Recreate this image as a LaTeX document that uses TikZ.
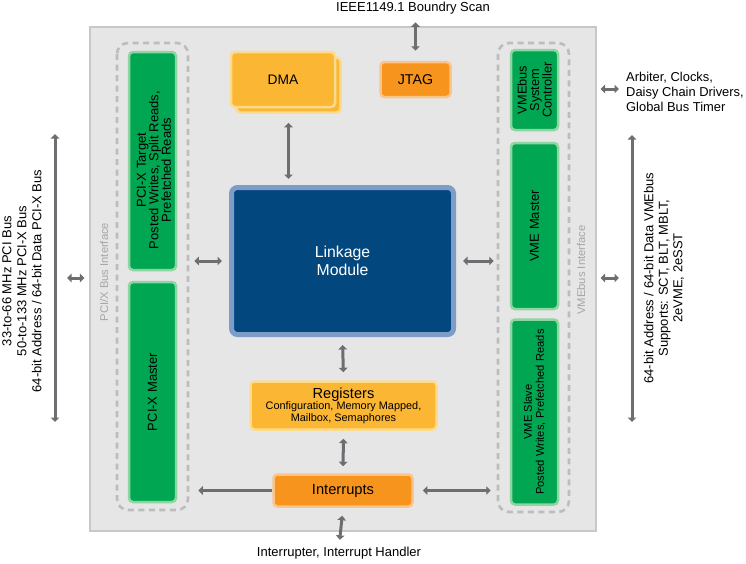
\documentclass[tikz,border=0pt]{standalone}
\usepackage{fontspec}
\setmainfont{Liberation Sans}
\usetikzlibrary{arrows.meta,calc}
\definecolor{bgc}{HTML}{E6E6E6}
\definecolor{bgb}{HTML}{C8C8C8}
\definecolor{dashc}{HTML}{BDBDBD}
\definecolor{grn}{HTML}{00A651}
\definecolor{grnb}{HTML}{8ED5A4}
\definecolor{ylw}{HTML}{FBB633}
\definecolor{ylwb}{HTML}{FDDB8C}
\definecolor{org}{HTML}{F7941E}
\definecolor{orgb}{HTML}{FBC48A}
\definecolor{blu}{HTML}{03477F}
\definecolor{blub}{HTML}{7E9CC8}
\definecolor{arr}{HTML}{6D6E71}
\definecolor{gtxt}{HTML}{A6A6A6}
\newcommand{\fs}[2]{\fontsize{#1}{#2}\selectfont}
\tikzset{
  greenbox/.style={draw=grnb, fill=grn, line width=2.5pt, rounded corners=4pt, inner sep=0pt, rotate=90, align=center, text=black},
  ylwbox/.style={draw=ylwb, fill=ylw, line width=2.5pt, rounded corners=4pt, inner sep=0pt, align=center},
  orgbox/.style={draw=orgb, fill=org, line width=2.5pt, rounded corners=4pt, inner sep=0pt, align=center},
  dbl/.style={arr, line width=3pt, {Triangle[length=4.5pt,width=8.5pt]}-{Triangle[length=4.5pt,width=8.5pt]}},
  sgl/.style={arr, line width=3pt, -{Triangle[length=4.5pt,width=8.5pt]}},
  dashbox/.style={draw=dashc, dash pattern=on 6pt off 4.5pt, line width=2.6pt, rounded corners=11pt},
  plain/.style={inner sep=0pt, align=center}
}
\begin{document}
\begin{tikzpicture}[x=1pt,y=-1pt]
\useasboundingbox (0,0) rectangle (746,563);
% background
\node[draw=bgb, fill=bgc, line width=1.2pt, minimum width=506pt, minimum height=504pt, inner sep=0pt] (bg) at (343,279) {};
% dashed groups
\draw[dashbox] (117,43) rectangle (188,510);
\draw[dashbox] (498,43) rectangle (569,512);
% interface labels
\node[plain, rotate=90, text=gtxt, font=\fs{11.2}{13}] (pciif) at (104,272) {PCI/X Bus Interface};
\node[plain, rotate=90, text=gtxt, font=\fs{11.2}{13}] (vmeif) at (581,270) {VMEbus Interface};
% green boxes (rotated: minimum width = vertical extent)
\node[greenbox, minimum width=218pt, minimum height=47pt] (pcitarget) at (152.5,161) {};
\node[plain, rotate=90, font=\fs{13}{12.5}] (pcitargettxt) at (154,170) {PCI-X Target\\Posted Writes, Split Reads,\\Prefetched Reads};
\node[greenbox, minimum width=220pt, minimum height=47pt, font=\fs{13}{14}] (pcimaster) at (152.5,392) {PCI-X Master};
\node[greenbox, minimum width=80pt, minimum height=47pt, font=\fs{12.8}{12.5}] (vmesys) at (534.5,90) {VMEbus\\System\\Controller};
\node[greenbox, minimum width=166pt, minimum height=47pt, font=\fs{13}{14}] (vmemaster) at (534.5,226) {VME Master};
\node[greenbox, minimum width=185pt, minimum height=47pt, font=\fs{11.2}{12}] (vmeslave) at (534.5,412) {VME Slave\\Posted Writes, Prefetched Reads};
% DMA
\node[ylwbox, minimum width=104pt, minimum height=55pt] (dmaback) at (288.5,85) {};
\node[ylwbox, minimum width=104pt, minimum height=55pt, font=\fs{13.8}{15}] (dma) at (283,79.5) {DMA};
% JTAG
\node[orgbox, minimum width=70pt, minimum height=35pt, font=\fs{14.2}{15}] (jtag) at (415.5,79.5) {JTAG};
% Linkage
\node[draw=blub, fill=blu, line width=5pt, rounded corners=6pt, minimum width=222pt, minimum height=147pt, inner sep=0pt, align=center, text=white, font=\fs{15.8}{17.5}] (linkage) at (342.5,261) {Linkage\\Module};
% Registers
\node[ylwbox, minimum width=186pt, minimum height=48pt] (registers) at (343.5,405.5) {{\fs{14.6}{15}Registers}\\[-1pt]{\fs{10.9}{12}Configuration, Memory Mapped,}\\{\fs{10.9}{12}Mailbox, Semaphores}};
% Interrupts
\node[orgbox, minimum width=139pt, minimum height=32pt, font=\fs{14.7}{15}] (interrupts) at (343,490.5) {Interrupts};
% outer texts
\node[plain, font=\fs{13}{14}] (ieee) at (413,8) {IEEE1149.1 Boundry Scan};
\node[plain, font=\fs{13}{14}] (irqh) at (339,553) {Interrupter, Interrupt Handler};
\node[plain, anchor=west, align=left, font=\fs{12.9}{15}] (arbiter) at (626,92) {Arbiter, Clocks,\\Daisy Chain Drivers,\\Global Bus Timer};
\node[plain, rotate=90, font=\fs{13}{15}] (pcibus) at (22,281) {33-to-66 MHz PCI Bus\\50-to-133 MHz PCI-X Bus\\64-bit Address / 64-bit Data PCI-X Bus};
\node[plain, rotate=90, font=\fs{13}{14.5}] (vmebus) at (664,278) {64-bit Address / 64-bit Data VMEbus\\Supports: SCT, BLT, MBLT,\\2eVME, 2eSST};
% bus lines
\coordinate (lbt) at (55,134);
\coordinate (lbb) at (55,422);
\coordinate (lbm) at (55,278);
\coordinate (rbt) at (632,135);
\coordinate (rbb) at (632,422);
\coordinate (rbm) at (632,278);
\draw[dbl] (lbt) -- (lbb);
\draw[dbl] (rbt) -- (rbb);
% connectors
\draw[dbl, shorten <=5pt, shorten >=12pt] (bg.west |- lbm) -- (lbm);
\draw[dbl, shorten <=4pt, shorten >=13pt] (bg.east |- rbm) -- (rbm);
\draw[dbl, shorten <=4pt, shorten >=7pt] (bg.east |- 0,89) -- (arbiter.west |- 0,89);
\draw[dbl, shorten <=8pt, shorten >=10pt] (ieee.south -| jtag.north) -- (jtag.north);
\draw[dbl, shorten <=9pt, shorten >=6pt] (dmaback.south) -- (dmaback.south |- linkage.north);
\draw[dbl, shorten <=17pt, shorten >=7pt] (linkage.west -| pcitarget.south) -- (linkage.west);
\draw[dbl, shorten <=7pt, shorten >=16pt] (linkage.east) -- (linkage.east -| vmemaster.north);
\draw[dbl, shorten <=8pt, shorten >=8pt] (linkage.south) -- (registers.north);
\draw[dbl, shorten <=8pt, shorten >=7pt] (registers.south) -- (interrupts.north);
\draw[dbl, shorten <=8pt, shorten >=7pt] (interrupts.south) -- (irqh.north);
\draw[sgl, shorten >=21pt] (interrupts.west) -- (interrupts.west -| pcimaster.south);
\draw[dbl, shorten <=9pt, shorten >=19pt] (interrupts.east) -- (interrupts.east -| vmeslave.north);
\end{tikzpicture}
\end{document}
